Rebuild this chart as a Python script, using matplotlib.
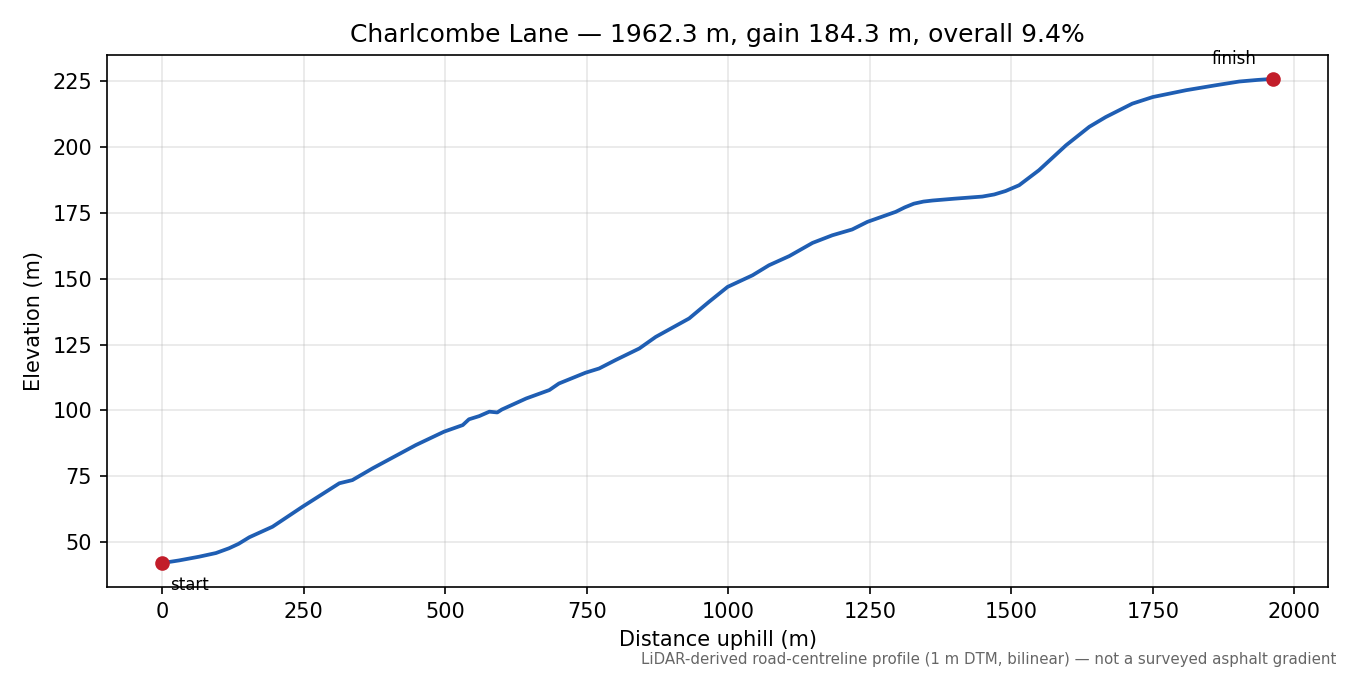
import matplotlib.pyplot as plt

# profile (distance along road, elevation)
dist = [0, 30, 65, 95, 118, 135, 154, 195, 248, 313, 336, 372, 448, 498, 531, 542, 560,
        578, 592, 600, 643, 684, 701, 748, 772, 801, 843, 872, 931, 966, 999, 1043, 1072,
        1108, 1149, 1184, 1219, 1246, 1296, 1312, 1328, 1345, 1361, 1400, 1449, 1470,
        1490, 1514, 1549, 1597, 1638, 1667, 1714, 1750, 1809, 1862, 1903, 1935, 1962.3]
elev = [42.0, 43.0, 44.4, 45.8, 47.6, 49.3, 51.8, 55.8, 63.4, 72.3, 73.5, 78.0, 86.8,
        91.9, 94.4, 96.6, 97.8, 99.5, 99.2, 100.3, 104.5, 107.7, 110.2, 114.3, 115.9,
        119.1, 123.5, 127.9, 134.9, 141.2, 146.9, 151.3, 155.1, 158.6, 163.6, 166.5,
        168.7, 171.6, 175.4, 177.1, 178.5, 179.3, 179.7, 180.4, 181.2, 182.0, 183.3,
        185.5, 191.2, 200.7, 207.7, 211.4, 216.5, 219.0, 221.6, 223.5, 224.9, 225.5, 225.9]

title = "Charlcombe Lane \u2014 1962.3 m, gain 184.3 m, overall 9.4%"
note = "LiDAR-derived road-centreline profile (1 m DTM, bilinear) \u2014 not a surveyed asphalt gradient"

fig, ax = plt.subplots(figsize=(9, 4.5), dpi=150)
fig.subplots_adjust(left=0.079, right=0.984, top=0.919, bottom=0.130)

ax.plot(dist, elev, color='#1f5eb3', lw=1.8)
ax.plot([dist[0], dist[-1]], [elev[0], elev[-1]], 'o', color='#c21d2a', ms=6)
ax.annotate('start', (dist[0], elev[0]), xytext=(4, -6), textcoords='offset points',
            ha='left', va='top', fontsize=8)
ax.annotate('finish', (dist[-1], elev[-1]), xytext=(-8, 5), textcoords='offset points',
            ha='right', va='bottom', fontsize=8)

ax.set_xlabel('Distance uphill (m)')
ax.set_ylabel('Elevation (m)')
ax.set_title(title)
ax.grid(True, alpha=0.3)

fig.text(0.99, 0.012, note, ha='right', va='bottom', fontsize=7.2, color='#666666')

plt.savefig('out.png')
